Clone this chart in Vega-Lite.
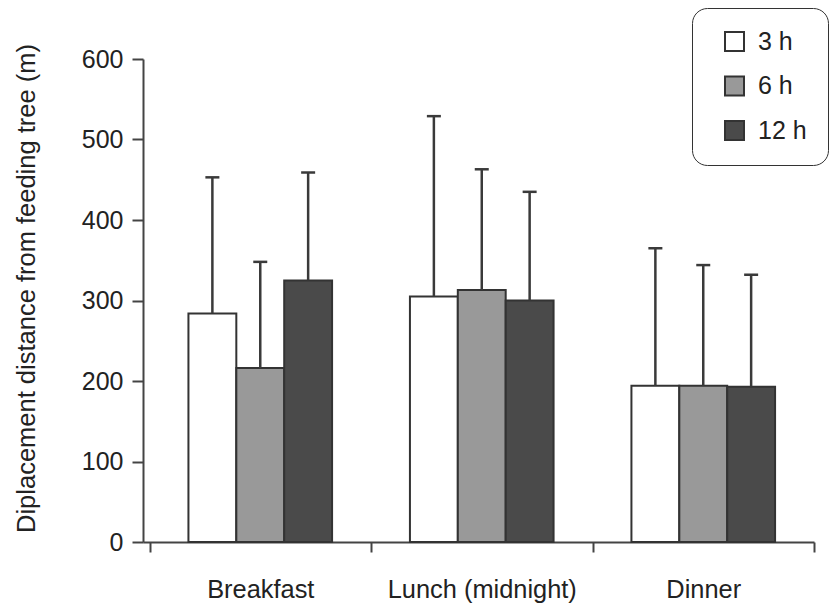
{
  "$schema": "https://vega.github.io/schema/vega-lite/v6.json",
  "width": 671,
  "height": 483,
  "autosize": "none",
  "padding": {"left": 143, "top": 59, "right": 16, "bottom": 63},
  "background": "white",
  "config": {
    "font": "Liberation Sans",
    "view": {"stroke": null},
    "axis": {"grid": false, "labelColor": "#222", "labelFontSize": 25, "domainColor": "#444", "domainWidth": 2, "tickColor": "#444", "tickWidth": 2}
  },
  "data": {
    "values": [
      {"meal": "Breakfast", "time": "3 h", "mean": 284, "upper": 453},
      {"meal": "Breakfast", "time": "6 h", "mean": 216, "upper": 348},
      {"meal": "Breakfast", "time": "12 h", "mean": 325, "upper": 459},
      {"meal": "Lunch (midnight)", "time": "3 h", "mean": 305, "upper": 529},
      {"meal": "Lunch (midnight)", "time": "6 h", "mean": 313, "upper": 463},
      {"meal": "Lunch (midnight)", "time": "12 h", "mean": 300, "upper": 435},
      {"meal": "Dinner", "time": "3 h", "mean": 194, "upper": 365},
      {"meal": "Dinner", "time": "6 h", "mean": 194, "upper": 344},
      {"meal": "Dinner", "time": "12 h", "mean": 193, "upper": 332}
    ]
  },
  "encoding": {
    "x": {
      "field": "meal", "type": "nominal",
      "sort": ["Breakfast", "Lunch (midnight)", "Dinner"],
      "scale": {"paddingInner": 0, "paddingOuter": 0.0147, "align": 1},
      "axis": {"title": null, "labelAngle": 0, "labelPadding": 25, "labelFontSize": 25.4, "labelLimit": 400, "tickSize": 10, "tickBand": "extent"}
    },
    "xOffset": {
      "field": "time", "type": "nominal",
      "scale": {"domain": ["3 h", "6 h", "12 h"], "paddingInner": 0, "paddingOuter": 0.813}
    }
  },
  "layer": [
    {
      "mark": {"type": "bar", "stroke": "#333", "strokeWidth": 2},
      "encoding": {
        "y": {
          "field": "mean", "type": "quantitative",
          "scale": {"domain": [0, 600]},
          "axis": {
            "title": "Diplacement distance from feeding tree (m)",
            "titleFontSize": 25.5, "titleFontWeight": "normal", "titleColor": "#222",
            "titleAngle": -90, "titleX": -109, "titleY": 229, "titleAlign": "center", "titleBaseline": "alphabetic",
            "values": [0, 100, 200, 300, 400, 500, 600],
            "tickSize": 11, "labelPadding": 9
          }
        },
        "fill": {
          "field": "time", "type": "nominal",
          "scale": {"domain": ["3 h", "6 h", "12 h"], "range": ["#ffffff", "#999999", "#4a4a4a"]},
          "legend": {
            "title": null, "orient": "none", "legendX": 549, "legendY": -51,
            "symbolType": "square", "symbolSize": 361, "symbolStrokeColor": "#333", "symbolStrokeWidth": 2,
            "symbolOffset": 9, "labelFontSize": 25, "labelColor": "#222", "labelOffset": 11,
            "rowPadding": 17.5, "padding": 21, "strokeColor": "#333", "cornerRadius": 15,
            "fillColor": "white", "labelExpr": "datum.label + '\u00a0\u00a0\u00a0\u00a0\u00a0\u00a0\u00a0\u00a0\u00a0\u00a0'"
          }
        }
      }
    },
    {
      "mark": {"type": "rule", "stroke": "#3a3a3a", "strokeWidth": 2.5},
      "encoding": {
        "y": {"field": "mean", "type": "quantitative"},
        "y2": {"field": "upper"}
      }
    },
    {
      "mark": {"type": "tick", "color": "#3a3a3a", "thickness": 2.5, "size": 14, "opacity": 1},
      "encoding": {
        "y": {"field": "upper", "type": "quantitative"}
      }
    }
  ]
}
